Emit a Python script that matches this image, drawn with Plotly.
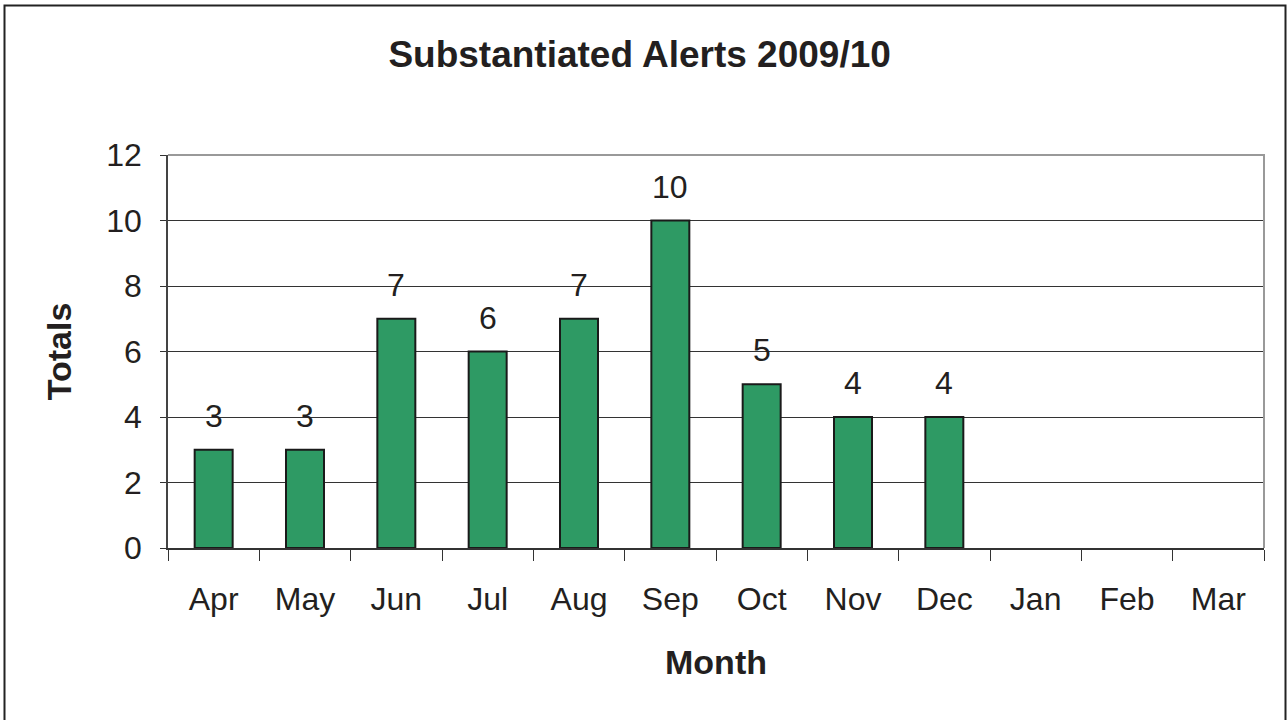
import plotly.graph_objects as go

months = ["Apr", "May", "Jun", "Jul", "Aug", "Sep", "Oct", "Nov", "Dec", "Jan", "Feb", "Mar"]
totals = [3, 3, 7, 6, 7, 10, 5, 4, 4, None, None, None]
label_months = ["Apr", "May", "Jun", "Jul", "Aug", "Sep", "Oct", "Nov", "Dec"]
label_values = [3, 3, 7, 6, 7, 10, 5, 4, 4]
y_ticks = [0, 2, 4, 6, 8, 10, 12]

FONT = "Liberation Sans, Arial, sans-serif"
TXT = "#231f20"

W, H = 1287, 720
L, R, T, B = 168, 23, 155, 172
PW, PH = W - L - R, H - T - B

fig = go.Figure()
fig.add_trace(go.Bar(
    x=months, y=totals,
    marker=dict(color="#2E9A64", line=dict(color="#1a1a1a", width=2)),
    hoverinfo="x+y",
))

annotations = []
for m, v in zip(label_months, label_values):
    annotations.append(dict(
        x=m, y=v, xref="x", yref="y", text=str(v), showarrow=False,
        yanchor="bottom", yshift=14,
        font=dict(family=FONT, size=32, color=TXT),
    ))

fig.update_layout(
    width=W, height=H,
    margin=dict(l=L, r=R, t=T, b=B),
    paper_bgcolor="white", plot_bgcolor="white",
    showlegend=False,
    bargap=0.584,
    title=dict(
        text="<b>Substantiated Alerts 2009/10</b>",
        x=0.497, xref="container", xanchor="center",
        y=1 - 54 / H, yref="container", yanchor="middle",
        font=dict(family=FONT, size=37, color=TXT),
    ),
    xaxis=dict(
        type="category",
        categoryorder="array", categoryarray=months,
        range=[-0.5, 11.5],
        tickson="boundaries",
        ticks="outside", ticklen=11, tickwidth=1, tickcolor="#333",
        showline=True, linecolor="#333", linewidth=1.5,
        showgrid=False,
        tickfont=dict(family=FONT, size=32, color=TXT),
        ticklabelstandoff=22,
        title=dict(text="<b>Month</b>", font=dict(family=FONT, size=34, color=TXT), standoff=34),
    ),
    yaxis=dict(
        range=[0, 12], tickvals=y_ticks,
        ticks="outside", ticklen=6, tickwidth=1, tickcolor="#333",
        showline=True, linecolor="#444", linewidth=1.5,
        showgrid=True, gridcolor="#333", gridwidth=1,
        zeroline=False,
        tickfont=dict(family=FONT, size=32, color=TXT),
        ticklabelstandoff=12,
        title=dict(text="<b>Totals</b>", font=dict(family=FONT, size=34, color=TXT), standoff=24),
    ),
    annotations=annotations,
    shapes=[
        # plot area border (top & right, gray)
        dict(type="path", xref="paper", yref="paper",
             path="M 0,1 L 1,1 L 1,0", line=dict(color="#999", width=2), layer="above"),
        # outer chart frame
        dict(type="rect", xref="paper", yref="paper",
             x0=(4.5 - L) / PW, x1=(1285.5 - L) / PW,
             y0=-(730 - (H - B)) / PH,
             y1=(H - B - 5.5) / PH,
             line=dict(color="#222", width=2), fillcolor="rgba(0,0,0,0)", layer="above"),
    ],
)

fig.write_html(
    "out.html",
    config={"displayModeBar": False},
    post_script="document.body.style.margin='0';document.body.style.overflow='hidden';",
)
